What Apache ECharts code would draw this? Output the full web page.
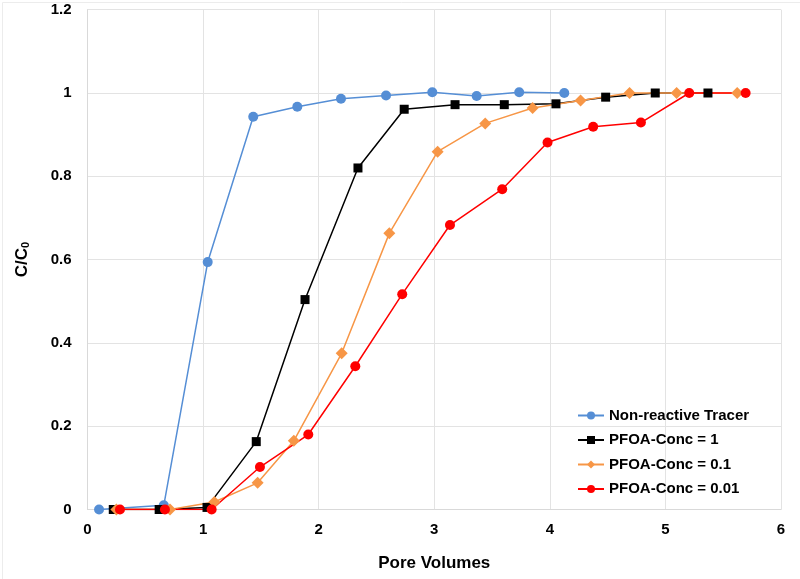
<!DOCTYPE html>
<html><head><meta charset="utf-8">
<script src="https://cdn.jsdelivr.net/npm/echarts@6/dist/echarts.min.js"></script>
<style>html,body{margin:0;padding:0;background:#fff}#c{width:800px;height:579px}</style>
</head><body><div id="c"></div>
<script>
const tracerX = [0.1, 0.66, 1.04, 1.434, 1.815, 2.193, 2.583, 2.983, 3.367, 3.735, 4.125];
const tracerY = [0, 0.01, 0.594, 0.943, 0.967, 0.986, 0.994, 1.002, 0.993, 1.002, 1.0];
const conc1X = [0.223, 0.62, 1.034, 1.46, 1.882, 2.34, 2.74, 3.18, 3.606, 4.053, 4.483, 4.912, 5.368];
const conc1Y = [0, 0, 0.005, 0.163, 0.504, 0.82, 0.961, 0.972, 0.972, 0.974, 0.99, 1.0, 1.0];
const conc01X = [0.25, 0.714, 1.097, 1.472, 1.785, 2.199, 2.611, 3.029, 3.441, 3.851, 4.266, 4.69, 5.097, 5.621];
const conc01Y = [0, 0, 0.018, 0.064, 0.165, 0.375, 0.663, 0.859, 0.927, 0.964, 0.982, 1.0, 1.0, 1.0];
const conc001X = [0.281, 0.67, 1.074, 1.492, 1.91, 2.317, 2.723, 3.136, 3.588, 3.98, 4.375, 4.788, 5.206, 5.694];
const conc001Y = [0, 0, 0, 0.102, 0.18, 0.344, 0.517, 0.683, 0.769, 0.881, 0.919, 0.929, 1.0, 1.0];
const seriesNames = ['Non-reactive Tracer', 'PFOA-Conc = 1', 'PFOA-Conc = 0.1', 'PFOA-Conc = 0.01'];

const zip = (xs, ys) => xs.map((x, i) => [x, ys[i]]);
const font = 'Liberation Sans, Arial, sans-serif';
const chart = echarts.init(document.getElementById('c'), null, {renderer: 'canvas'});
const mk = (name, data, color, symbol, size) => ({
  name, type: 'line', data, symbol, symbolSize: size,
  itemStyle: {color}, lineStyle: {color, width: 1.5}, emphasis: {disabled: true}
});
chart.setOption({
  animation: false,
  backgroundColor: '#fff',
  graphic: [{type: 'rect', left: 0, top: 0, silent: true,
    shape: {x: 0.5, y: 0.5, width: 798, height: 577},
    style: {fill: 'none', stroke: '#ececec', lineWidth: 1}}],
  grid: {left: 87.5, right: 19, top: 9.7, bottom: 69.5},
  xAxis: {
    type: 'value', min: 0, max: 6, interval: 1,
    name: 'Pore Volumes', nameLocation: 'middle', nameGap: 45,
    nameTextStyle: {fontFamily: font, fontWeight: 'bold', fontSize: 17, color: '#000'},
    axisLine: {show: true, lineStyle: {color: '#d9d9d9'}},
    axisTick: {show: false},
    axisLabel: {fontFamily: font, fontWeight: 'bold', fontSize: 15, color: '#000', margin: 13},
    splitLine: {show: true, lineStyle: {color: '#e3e3e3'}}
  },
  yAxis: {
    type: 'value', min: 0, max: 1.2, interval: 0.2,
    name: '{a|C/C}{b|0}', nameLocation: 'middle', nameGap: 56, nameRotate: 90,
    nameTextStyle: {
      rich: {
        a: {fontFamily: font, fontWeight: 'bold', fontSize: 17, color: '#000'},
        b: {fontFamily: font, fontWeight: 'bold', fontSize: 11, color: '#000', padding: [8, 0, 0, 0]}
      }
    },
    axisLine: {show: true, lineStyle: {color: '#d9d9d9'}},
    axisTick: {show: false},
    axisLabel: {fontFamily: font, fontWeight: 'bold', fontSize: 15, color: '#000', margin: 16,
      formatter: v => String(Math.round(v * 10) / 10)},
    splitLine: {show: true, lineStyle: {color: '#e3e3e3'}}
  },
  legend: {
    orient: 'vertical', left: 572, top: 403, itemGap: 9.5,
    itemWidth: 26, itemHeight: 10,
    textStyle: {fontFamily: font, fontWeight: 'bold', fontSize: 15, color: '#000'},
    data: seriesNames
  },
  series: [
    mk(seriesNames[0], zip(tracerX, tracerY), '#558ED5', 'circle', 10),
    mk(seriesNames[1], zip(conc1X, conc1Y), '#000000', 'rect', 9),
    mk(seriesNames[2], zip(conc01X, conc01Y), '#F79646', 'diamond', 12),
    mk(seriesNames[3], zip(conc001X, conc001Y), '#FF0000', 'circle', 10)
  ]
});
</script></body></html>
